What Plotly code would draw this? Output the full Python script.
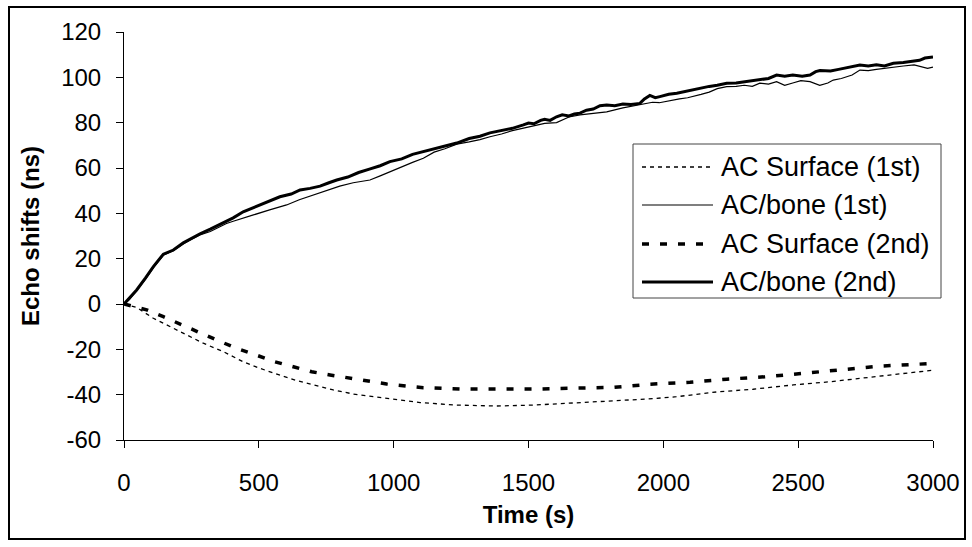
import plotly.graph_objects as go

# ---------------- data ----------------
t_bone2 = [0, 20, 47, 80, 109, 146, 183, 220, 250, 282, 320, 344, 380, 405, 442, 480, 504, 540, 578,
           620, 653, 690, 727, 760, 789, 830, 870, 910, 950, 986, 1030, 1070, 1110, 1150, 1190, 1234,
           1280, 1320, 1357, 1400, 1440, 1481, 1500, 1520, 1545, 1560, 1580, 1604, 1625, 1650, 1670,
           1691, 1715, 1740, 1765, 1790, 1820, 1850, 1880, 1913, 1930, 1950, 1970, 1987, 2020, 2050,
           2080, 2111, 2140, 2170, 2200, 2235, 2270, 2300, 2330, 2358, 2390, 2420, 2450, 2480, 2515,
           2544, 2565, 2581, 2620, 2650, 2690, 2729, 2760, 2790, 2820, 2853, 2890, 2930, 2950, 2970,
           3000]
v_bone2 = [0, 2.5, 6.2, 11.5, 16.5, 22.0, 23.8, 27.0, 29.0, 31.0, 33.0, 34.5, 36.5, 38.0, 40.7, 42.5,
           43.7, 45.5, 47.3, 48.5, 50.3, 51.0, 52.0, 53.5, 54.7, 56.0, 58.0, 59.5, 61.0, 62.8, 64.0,
           66.0, 67.2, 68.5, 69.5, 71.0, 73.0, 74.0, 75.5, 76.5, 77.5, 79.0, 79.8, 79.5, 81.0, 81.5,
           81.0, 82.6, 83.5, 83.0, 83.8, 84.2, 85.5, 86.0, 87.5, 87.8, 87.5, 88.2, 88.0, 88.5, 90.5,
           92.0, 91.0, 91.5, 92.5, 93.0, 93.8, 94.4, 95.5, 96.0, 96.5, 97.4, 97.5, 98.0, 98.5, 98.8,
           99.5, 101.0, 100.5, 101.0, 100.5, 101.0, 102.5, 103.0, 102.8, 103.5, 104.5, 105.4, 105.0,
           105.5, 105.0, 106.2, 106.5, 107.0, 107.5, 108.5, 109.0]

t_bone1 = [0, 20, 47, 80, 109, 146, 183, 220, 250, 282, 320, 344, 380, 405, 442, 480, 540, 603, 650,
           700, 752, 800, 850, 912, 950, 986, 1030, 1070, 1110, 1150, 1190, 1234, 1280, 1320, 1357,
           1400, 1440, 1481, 1520, 1560, 1604, 1650, 1691, 1740, 1790, 1850, 1913, 1940, 1960, 1985,
           2012, 2040, 2060, 2090, 2111, 2140, 2170, 2200, 2235, 2270, 2300, 2330, 2358, 2390, 2420,
           2450, 2480, 2510, 2544, 2580, 2610, 2630, 2660, 2700, 2729, 2760, 2790, 2820, 2853, 2890,
           2930, 2960, 2980, 3000]
v_bone1 = [0, 2.0, 6.0, 11.0, 16.0, 21.5, 23.5, 26.5, 28.5, 30.5, 32.0, 33.5, 35.5, 36.5, 38.0, 39.3,
           41.5, 43.7, 46.0, 48.0, 50.3, 52.0, 53.5, 54.7, 56.5, 58.4, 60.5, 62.5, 64.3, 67.0, 68.5,
           70.5, 71.5, 72.5, 73.8, 75.0, 76.5, 77.5, 78.5, 79.7, 80.0, 82.5, 83.4, 84.0, 84.8, 86.5,
           87.8, 88.5, 89.0, 88.8, 89.5, 90.0, 90.5, 91.0, 91.5, 92.5, 93.5, 95.0, 95.9, 96.0, 96.5,
           96.0, 97.4, 97.0, 98.1, 96.5, 97.5, 98.5, 98.1, 96.5, 97.5, 98.8, 99.5, 101.0, 103.2, 103.0,
           103.5, 104.0, 104.7, 105.0, 105.5, 104.5, 104.0, 104.5]

t_surf1 = [0, 47, 109, 171, 232, 294, 368, 442, 504, 578, 640, 714, 776, 850, 924, 998, 1098, 1234,
           1382, 1518, 1654, 1802, 1944, 2049, 2198, 2333, 2482, 2618, 2754, 2890, 3000]
v_surf1 = [0, -1.5, -6.3, -10.0, -13.7, -17.3, -21.0, -25.5, -28.4, -31.3, -33.8, -36.0, -37.9, -39.7,
           -40.9, -42.0, -43.5, -44.6, -45.0, -44.6, -43.8, -42.8, -41.9, -40.9, -38.8, -37.6, -35.7,
           -34.3, -32.5, -30.6, -29.2]

t_surf2 = [0, 84, 146, 214, 282, 350, 418, 492, 560, 628, 696, 764, 832, 900, 974, 1110, 1246, 1394,
           1536, 1678, 1815, 1950, 2099, 2235, 2377, 2519, 2655, 2803, 2939, 3000]
v_surf2 = [0, -2.6, -5.6, -9.3, -12.7, -16.2, -19.6, -22.6, -25.5, -27.7, -29.9, -31.3, -32.5, -33.8,
           -35.3, -36.9, -37.5, -37.5, -37.5, -37.1, -36.8, -35.4, -34.5, -33.2, -32.1, -30.6, -29.1,
           -27.4, -26.6, -26.2]

series_names = ["AC Surface (1st)", "AC/bone (1st)", "AC Surface (2nd)", "AC/bone (2nd)"]
x_ticks = [0, 500, 1000, 1500, 2000, 2500, 3000]
y_ticks = [-60, -40, -20, 0, 20, 40, 60, 80, 100, 120]

# ---------------- styling ----------------
FONT = "Arial, 'Liberation Sans', sans-serif"
W, H = 972, 547
L, R, T, B = 124, 39, 32, 107
PW, PH = W - L - R, H - T - B

def px(x):
    return (x - L) / PW

def py(y):
    return (H - B - y) / PH

styles = [
    dict(color="black", width=1.3, dash="4px,4px"),
    dict(color="black", width=1.2, dash="solid"),
    dict(color="black", width=3.5, dash="7px,11px"),
    dict(color="black", width=3.0, dash="solid"),
]
data = [(t_surf1, v_surf1), (t_bone1, v_bone1), (t_surf2, v_surf2), (t_bone2, v_bone2)]

fig = go.Figure()
for name, (tx, vy), st in zip(series_names, data, styles):
    fig.add_trace(go.Scatter(x=tx, y=vy, mode="lines", name=name, line=st,
                             showlegend=False, hoverinfo="x+y+name"))

fig.update_layout(
    width=W, height=H,
    margin=dict(l=L, r=R, t=T, b=B, autoexpand=False),
    paper_bgcolor="white", plot_bgcolor="white",
    font=dict(family=FONT, color="black", size=24),
    showlegend=False,
)
fig.update_xaxes(
    range=[0, 3000], tickvals=x_ticks, ticktext=[str(v) for v in x_ticks],
    showgrid=False, zeroline=False, showline=True, linecolor="black", linewidth=1,
    ticks="outside", ticklen=7, tickcolor="black", tickwidth=1,
    tickfont=dict(size=24), ticklabelstandoff=14,
    title=dict(text="<b>Time (s)</b>", font=dict(size=24), standoff=11),
)
fig.update_yaxes(
    range=[-60, 120], tickvals=y_ticks, ticktext=[str(v) for v in y_ticks],
    showgrid=False, zeroline=False, showline=True, linecolor="black", linewidth=1,
    ticks="outside", ticklen=7, tickcolor="black", tickwidth=1,
    tickfont=dict(size=24), ticklabelstandoff=10,
    title=dict(text="<b>Echo shifts (ns)</b>", font=dict(size=24), standoff=14),
)

shapes = []
# outer chart border
shapes.append(dict(type="rect", xref="paper", yref="paper",
                   x0=px(9), x1=px(965), y0=py(539), y1=py(7),
                   line=dict(color="black", width=2), layer="above"))
# legend box
shapes.append(dict(type="rect", xref="paper", yref="paper",
                   x0=px(633), x1=px(941), y0=py(298), y1=py(144),
                   line=dict(color="#444444", width=1), fillcolor="white", layer="above"))
annotations = []
rows = [167, 205, 244, 282]
for name, st, ry in zip(series_names, styles, rows):
    shapes.append(dict(type="line", xref="paper", yref="paper",
                       x0=px(642), x1=px(713), y0=py(ry), y1=py(ry),
                       line=st, layer="above"))
    annotations.append(dict(xref="paper", yref="paper", x=px(719), y=py(ry),
                            xanchor="left", yanchor="middle", showarrow=False,
                            text=name, font=dict(size=27, family=FONT, color="black")))

fig.update_layout(shapes=shapes, annotations=annotations)
fig.write_html("out.html", config={"displayModeBar": False},
               post_script="document.body.style.margin='0';")
